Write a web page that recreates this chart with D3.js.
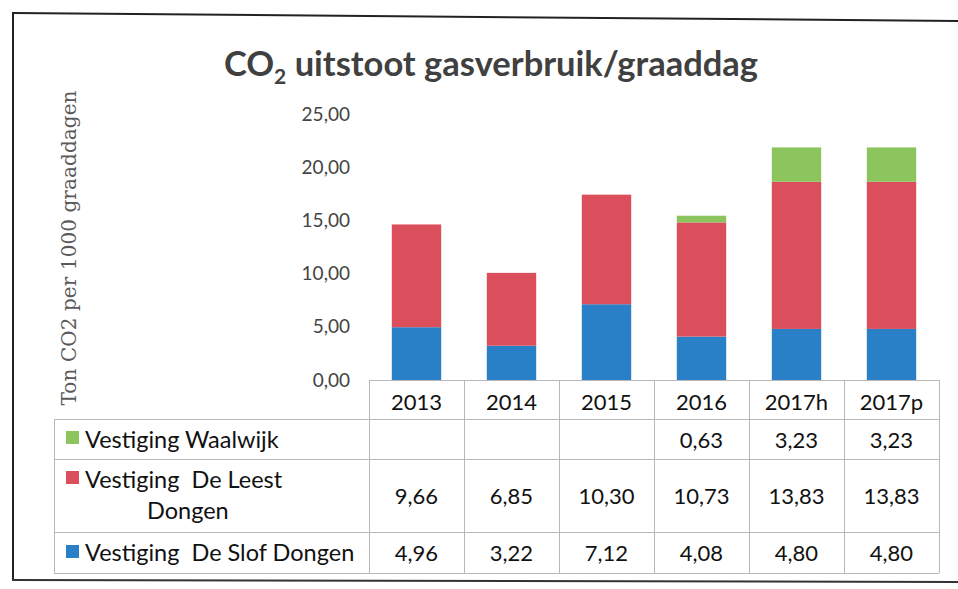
<!DOCTYPE html>
<html>
<head>
<meta charset="utf-8">
<script src="https://cdn.jsdelivr.net/npm/d3@7"></script>
<style>
  body { margin: 0; background: #fff; }
  svg { display: block; }
  text { font-family: Lato, "Open Sans", sans-serif; }
</style>
</head>
<body>
<div id="chart"></div>
<script>
// data
var years = ["2013", "2014", "2015", "2016", "2017h", "2017p"];
var slof = [4.96, 3.22, 7.12, 4.08, 4.80, 4.80];
var leest = [9.66, 6.85, 10.30, 10.73, 13.83, 13.83];
var waalwijk = [null, null, null, 0.63, 3.23, 3.23];
var yTicks = [0, 5, 10, 15, 20, 25];

var seriesKeys = ["slof", "leest", "waalwijk"];
var colors = { slof: "#2a80c6", leest: "#db4f5d", waalwijk: "#8cc55e" };

var width = 958, height = 589;

var svg = d3.select("#chart").append("svg")
    .attr("width", width)
    .attr("height", height);

// scanned page frame
svg.append("path")
    .attr("d", "M13,13 L958,21")
    .attr("stroke", "#222").attr("stroke-width", 2).attr("fill", "none");
svg.append("line")
    .attr("x1", 13).attr("y1", 12).attr("x2", 13).attr("y2", 580)
    .attr("stroke", "#222").attr("stroke-width", 2);
svg.append("path")
    .attr("d", "M12,580 L958,582")
    .attr("stroke", "#333").attr("stroke-width", 2).attr("fill", "none");

// table geometry
var tableLeft = 54, colLeft = 369, tableRight = 939;
var rowY = [380, 419, 459, 532, 573]; // header, waalwijk, leest, slof

var x = d3.scaleBand()
    .domain(years)
    .range([colLeft, tableRight])
    .paddingInner(0.48)
    .paddingOuter(0.24);

var colX = d3.scaleBand().domain(years).range([colLeft, tableRight]);

var y = d3.scaleLinear()
    .domain([0, 25])
    .range([380, 114]);

var rows = years.map(function (yr, i) {
    return { year: yr, slof: slof[i], leest: leest[i], waalwijk: waalwijk[i] || 0 };
});

var stack = d3.stack().keys(seriesKeys)(rows);

// title
var title = svg.append("text")
    .attr("x", 491)
    .attr("y", 76)
    .attr("text-anchor", "middle")
    .attr("fill", "#404040")
    .style("font-size", "34.5px")
    .style("font-weight", "bold");
title.append("tspan").text("CO");
title.append("tspan").text("2").style("font-size", "21px").attr("dy", 8);
title.append("tspan").text(" uitstoot gasverbruik/graaddag").attr("dy", -8);

// y axis label
svg.append("text")
    .attr("transform", "translate(76,248) rotate(-90)")
    .attr("text-anchor", "middle")
    .attr("fill", "#5a5a5a")
    .attr("textLength", 315)
    .attr("lengthAdjust", "spacing")
    .style("font-family", "'DejaVu Serif', serif")
    .style("font-size", "20px")
    .text("Ton CO2 per 1000 graaddagen");

// y axis (labels only)
var yAxis = d3.axisLeft(y)
    .tickValues(yTicks)
    .tickSize(0)
    .tickPadding(0)
    .tickFormat(function (d) { return d3.format(".2f")(d).replace(".", ","); });

var gy = svg.append("g")
    .attr("transform", "translate(350,0)")
    .call(yAxis);
gy.select(".domain").remove();
gy.selectAll("text")
    .attr("fill", "#444")
    .style("font-size", "19px")
    .style("font-family", "Lato, sans-serif");

// bars
svg.append("g").selectAll("g")
    .data(stack)
    .join("g")
    .attr("fill", function (d) { return colors[d.key]; })
    .selectAll("rect")
    .data(function (d) { return d; })
    .join("rect")
    .attr("x", function (d) { return x(d.data.year); })
    .attr("width", x.bandwidth())
    .attr("y", function (d) { return y(d[1]); })
    .attr("height", function (d) { return y(d[0]) - y(d[1]); });

// data table
var grid = svg.append("g")
    .attr("stroke", "#b8b8b8")
    .attr("stroke-width", 1)
    .attr("shape-rendering", "crispEdges");

grid.append("line").attr("x1", colLeft).attr("x2", tableRight).attr("y1", rowY[0]).attr("y2", rowY[0]);
rowY.slice(1).forEach(function (ry) {
    grid.append("line").attr("x1", tableLeft).attr("x2", tableRight).attr("y1", ry).attr("y2", ry);
});
grid.append("line").attr("x1", tableLeft).attr("x2", tableLeft).attr("y1", rowY[1]).attr("y2", rowY[4]);
years.forEach(function (yr) {
    grid.append("line").attr("x1", colX(yr)).attr("x2", colX(yr)).attr("y1", rowY[0]).attr("y2", rowY[4]);
});
grid.append("line").attr("x1", tableRight).attr("x2", tableRight).attr("y1", rowY[0]).attr("y2", rowY[4]);

var fmt = function (v) { return v == null ? "" : d3.format(".2f")(v).replace(".", ","); };

// header years
svg.append("g").selectAll("text")
    .data(years)
    .join("text")
    .attr("x", function (d) { return colX(d) + colX.bandwidth() / 2; })
    .attr("y", 410)
    .attr("text-anchor", "middle")
    .attr("fill", "#111")
    .style("font-size", "22px")
    .text(function (d) { return d; });

var tableRows = [
    { key: "waalwijk", values: waalwijk, mid: 440 },
    { key: "leest", values: leest, mid: 496 },
    { key: "slof", values: slof, mid: 553 }
];

tableRows.forEach(function (r) {
    svg.append("g").selectAll("text")
        .data(r.values.map(function (v, i) { return { v: v, year: years[i] }; }))
        .join("text")
        .attr("x", function (d) { return colX(d.year) + colX.bandwidth() / 2; })
        .attr("y", r.mid + 8)
        .attr("text-anchor", "middle")
        .attr("fill", "#111")
        .style("font-size", "22px")
        .text(function (d) { return fmt(d.v); });
});

// row labels with legend keys
var labelRows = [
    { key: "waalwijk", lines: ["Vestiging Waalwijk"], keyY: 431, ys: [448], xs: [85] },
    { key: "leest", lines: ["Vestiging  De Leest", "Dongen"], keyY: 471, ys: [488, 519], xs: [85, 147] },
    { key: "slof", lines: ["Vestiging  De Slof Dongen"], keyY: 545, ys: [561], xs: [85] }
];

labelRows.forEach(function (r) {
    svg.append("rect")
        .attr("x", 66).attr("y", r.keyY)
        .attr("width", 13).attr("height", 13)
        .attr("fill", colors[r.key]);
    r.lines.forEach(function (line, i) {
        svg.append("text")
            .attr("x", r.xs[i])
            .attr("y", r.ys[i])
            .attr("fill", "#111")
            .style("font-size", "23.5px")
            .attr("xml:space", "preserve")
            .text(line);
    });
});
</script>
</body>
</html>
